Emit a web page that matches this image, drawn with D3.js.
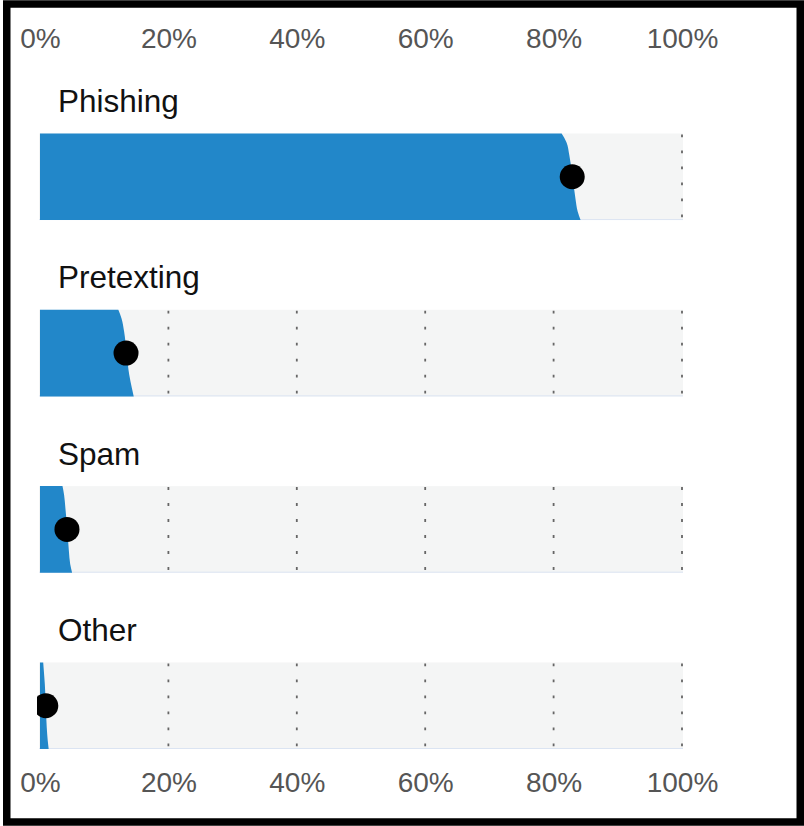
<!DOCTYPE html>
<html>
<head>
<meta charset="utf-8">
<script src="https://cdn.jsdelivr.net/npm/d3@7"></script>
<style>
  body { margin: 0; background: #fff; }
  svg { display: block; font-family: "Liberation Sans", Arial, Helvetica, sans-serif; }
</style>
</head>
<body>
<div id="chart"></div>
<script>
// categories, point estimate and the quantile edge of each slab (top -> bottom)
const categories = ["Phishing", "Pretexting", "Spam", "Other"];
const estimates = [82.9, 13.4, 4.2, 0.9];
const quantileProbs = [0, 0.1, 0.25, 0.5, 0.75, 0.9, 1];
const phishingEdge = [81.25, 82.0, 82.45, 82.95, 83.4, 83.75, 84.2];
const pretextingEdge = [12.2, 12.7, 13.1, 13.5, 13.9, 14.3, 14.6];
const spamEdge = [3.5, 3.75, 3.95, 4.25, 4.5, 4.7, 5.0];
const otherEdge = [0.5, 0.6, 0.75, 0.9, 1.05, 1.2, 1.35];
const edges = [phishingEdge, pretextingEdge, spamEdge, otherEdge];
const tickValues = [0, 20, 40, 60, 80, 100];

const width = 804, height = 826;

const svg = d3.select("#chart")
  .append("svg")
  .attr("width", width)
  .attr("height", height);

const x = d3.scaleLinear().domain([0, 100]).range([40, 682]);

const y = d3.scaleBand()
  .domain(categories)
  .range([133.5, 749])
  .paddingInner(0.509)
  .paddingOuter(0);

const bw = y.bandwidth();

svg.append("defs").append("clipPath")
  .attr("id", "plotClip")
  .append("rect")
  .attr("x", x(0) - 3)
  .attr("y", 0)
  .attr("width", width)
  .attr("height", height);

// axis labels top and bottom
const fmt = d => d + "%";
const topAxis = d3.axisTop(x).tickValues(tickValues).tickFormat(fmt).tickSize(0).tickPadding(0);
const bottomAxis = d3.axisBottom(x).tickValues(tickValues).tickFormat(fmt).tickSize(0).tickPadding(0);

function styleAxis(g) {
  g.select(".domain").remove();
  g.selectAll("text")
    .attr("y", 0)
    .attr("dy", 0)
    .attr("fill", "#555")
    .style("font-size", "28px")
    .style("font-family", "'Liberation Sans', Arial, sans-serif");
}

svg.append("g")
  .attr("transform", "translate(0,47.5)")
  .call(topAxis)
  .call(styleAxis);

svg.append("g")
  .attr("transform", "translate(0,791.5)")
  .call(bottomAxis)
  .call(styleAxis);

const rows = svg.selectAll(".row")
  .data(categories.map((c, i) => ({ name: c, est: estimates[i], edge: edges[i] })))
  .enter()
  .append("g")
  .attr("class", "row")
  .attr("transform", d => "translate(0," + y(d.name) + ")");

rows.append("text")
  .attr("x", 58)
  .attr("y", -21.5)
  .attr("fill", "#111")
  .style("font-size", "31.5px")
  .text(d => d.name);

rows.append("rect")
  .attr("x", x(0) - 1)
  .attr("y", 0)
  .attr("width", x(100) - x(0) + 2)
  .attr("height", bw)
  .attr("fill", "#f4f5f5");

rows.append("line")
  .attr("x1", x(0) - 1)
  .attr("x2", x(100) + 1)
  .attr("y1", bw - 0.5)
  .attr("y2", bw - 0.5)
  .attr("stroke", "#dbe4f2")
  .attr("stroke-width", 1);

rows.selectAll(".grid")
  .data(tickValues.slice(1))
  .enter()
  .append("line")
  .attr("class", "grid")
  .attr("x1", d => x(d))
  .attr("x2", d => x(d))
  .attr("y1", 1)
  .attr("y2", bw)
  .attr("stroke", "#666")
  .attr("stroke-width", 1.8)
  .attr("stroke-dasharray", "2.8 13.2");

const p = d3.scaleLinear().domain([0, 1]).range([0, bw]);

const slab = d3.area()
  .y(d => p(d[0]))
  .x0(x(0))
  .x1(d => x(d[1]))
  .curve(d3.curveMonotoneY);

rows.append("path")
  .attr("d", d => slab(quantileProbs.map((q, i) => [q, d.edge[i]])))
  .attr("fill", "#2287c9");

rows.append("circle")
  .attr("clip-path", "url(#plotClip)")
  .attr("cx", d => x(d.est))
  .attr("cy", bw / 2)
  .attr("r", 12.5)
  .attr("fill", "#000");

// frame
svg.append("rect")
  .attr("x", 6.75)
  .attr("y", 4)
  .attr("width", 793.5)
  .attr("height", 818)
  .attr("fill", "none")
  .attr("stroke", "#000")
  .attr("stroke-width", 7.5);
</script>
</body>
</html>
